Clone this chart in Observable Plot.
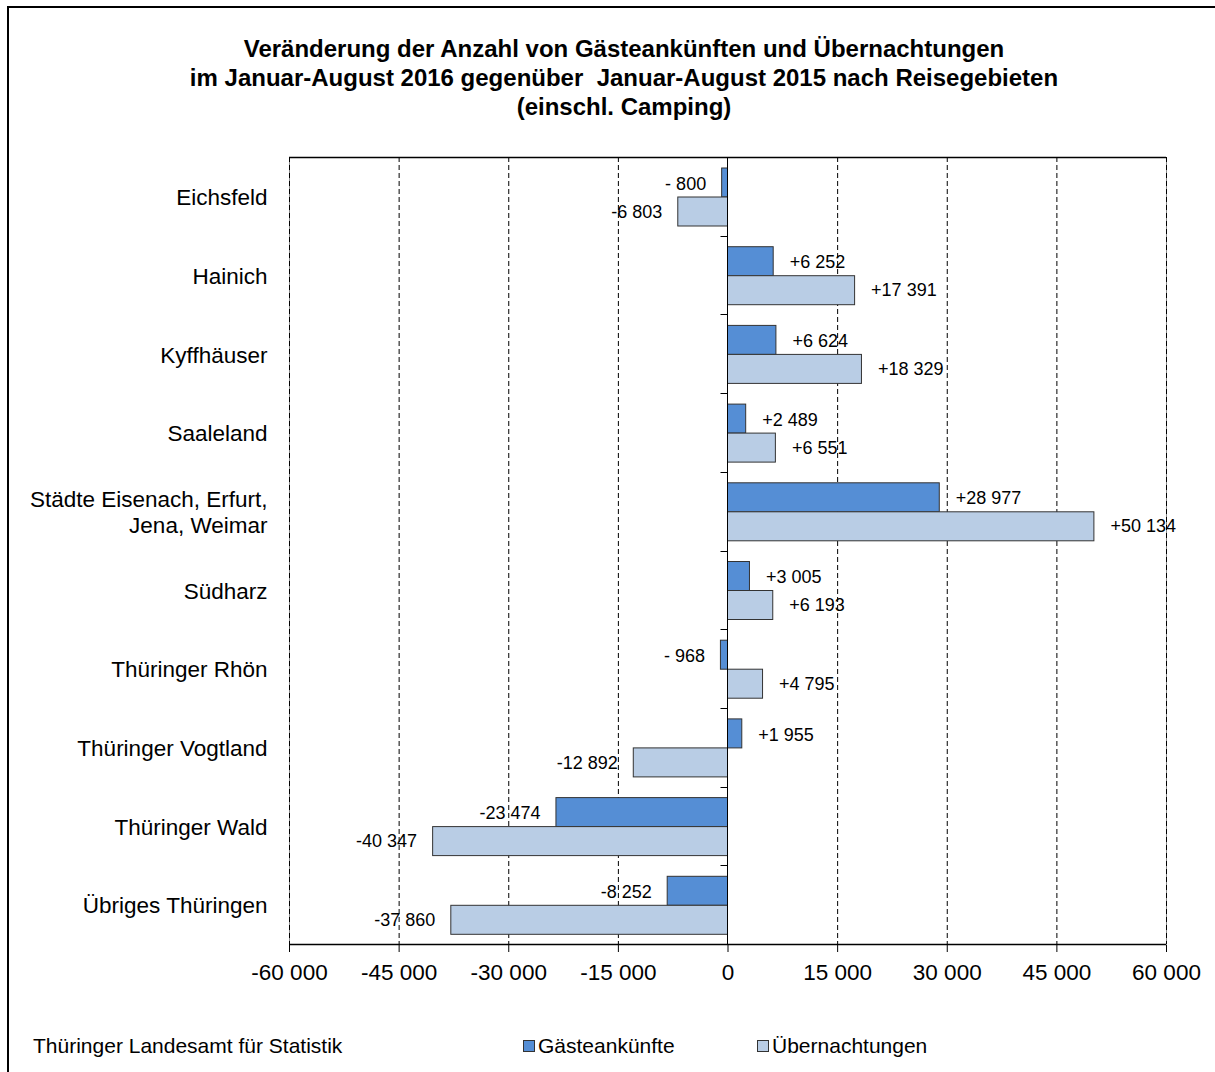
<!DOCTYPE html>
<html>
<head>
<meta charset="utf-8">
<script src="https://cdn.jsdelivr.net/npm/d3@7"></script>
<script src="https://cdn.jsdelivr.net/npm/@observablehq/plot@0.6"></script>
<style>
  html, body { margin: 0; padding: 0; background: #fff; overflow: hidden; }
  #wrap { position: relative; width: 1215px; height: 1072px; font-family: "Liberation Sans", Arial, sans-serif; color: #000; overflow: hidden; }
  #border { position: absolute; left: 7px; top: 6px; width: 1400px; height: 1300px; border: 2px solid #000; box-sizing: border-box; }
  #title { position: absolute; left: 0; top: 34px; width: 1248px; text-align: center; font-weight: bold; font-size: 24px; line-height: 29px; white-space: pre; }
  #chart { position: absolute; left: 0; top: 0; }
  #footer { position: absolute; left: 33px; top: 1033px; font-size: 21px; line-height: 26px; }
  .leg { position: absolute; top: 1033px; font-size: 21px; line-height: 26px; white-space: nowrap; }
  .sw { display: inline-block; width: 10px; height: 10px; border: 1px solid #333; margin-right: 3px; vertical-align: 1px; }
</style>
</head>
<body>
<div id="wrap">
  <div id="border"></div>
  <div id="chart"></div>
  <div id="title"></div>
  <div id="footer"></div>
  <div id="leg1" class="leg" style="left:523px"></div>
  <div id="leg2" class="leg" style="left:757px"></div>
</div>
<script>
// ---- data ----
const categories = [
  "Eichsfeld",
  "Hainich",
  "Kyffhäuser",
  "Saaleland",
  "Städte Eisenach, Erfurt,\nJena, Weimar",
  "Südharz",
  "Thüringer Rhön",
  "Thüringer Vogtland",
  "Thüringer Wald",
  "Übriges Thüringen"
];
const gaesteankuenfte = [-800, 6252, 6624, 2489, 28977, 3005, -968, 1955, -23474, -8252];
const uebernachtungen = [-6803, 17391, 18329, 6551, 50134, 6193, 4795, -12892, -40347, -37860];
const seriesNames = ["Gästeankünfte", "Übernachtungen"];
const xTicks = [-60000, -45000, -30000, -15000, 0, 15000, 30000, 45000, 60000];
const titleLines = [
  "Veränderung der Anzahl von Gästeankünften und Übernachtungen",
  "im Januar-August 2016 gegenüber  Januar-August 2015 nach Reisegebieten",
  "(einschl. Camping)"
];
const sourceText = "Thüringer Landesamt für Statistik";

const colors = ["#558ED5", "#B9CDE5"];

const rows = categories.map((c, i) => ({cat: c, g: gaesteankuenfte[i], u: uebernachtungen[i]}));

const grp = v => d3.format(",")(Math.abs(v)).replace(/,/g, " ");
const tickFmt = v => (v < 0 ? "-" : "") + grp(v);
const labelFmt = v => v < 0 ? (Math.abs(v) < 1000 ? "- " : "-") + grp(v) : "+" + grp(v);

// decorations drawn with the scales
const decor = (index, scales, values, dims) => {
  const {width, height, marginTop, marginBottom, marginLeft, marginRight} = dims;
  const g = d3.create("svg:g");
  const x0 = scales.x(0);
  const top = marginTop, bottom = height - marginBottom;
  const left = marginLeft, right = width - marginRight;
  g.append("line").attr("x1", left).attr("x2", right).attr("y1", top + 0.5).attr("y2", top + 0.5)
    .attr("stroke", "#000").attr("stroke-width", 1.5);
  g.append("line").attr("x1", left).attr("x2", right).attr("y1", bottom + 0.5).attr("y2", bottom + 0.5)
    .attr("stroke", "#000").attr("stroke-width", 1.5);
  g.append("line").attr("x1", x0).attr("x2", x0).attr("y1", top).attr("y2", bottom)
    .attr("stroke", "#000").attr("stroke-width", 1);
  categories.slice(1).forEach(c => {
    const yy = Math.round(scales.y(c)) + 0.5;
    g.append("line").attr("x1", x0 - 7).attr("x2", x0).attr("y1", yy).attr("y2", yy)
      .attr("stroke", "#000").attr("stroke-width", 1);
  });
  return g.node();
};

const band = 78.7;

const chart = Plot.plot({
  width: 1215,
  height: 1072,
  marginLeft: 289,
  marginRight: 49,
  marginTop: 157,
  marginBottom: 128,
  style: {fontFamily: "'Liberation Sans', Arial, sans-serif", fontSize: "22.5px", background: "transparent", color: "#000", overflow: "visible"},
  x: {domain: [-60000, 60000], ticks: xTicks, tickFormat: tickFmt, tickSize: 8, tickPadding: 12, label: null},
  y: {domain: categories, padding: 0, round: false, axis: null},
  marks: [
    Plot.frame({stroke: "#8a8a8a"}),
    Plot.ruleX(xTicks.filter(d => d !== 0), {stroke: "#000", strokeDasharray: "5,3", strokeWidth: 1}),
    Plot.barX(rows, {x1: () => 0, x2: "g", y: "cat", fill: colors[0], stroke: "#333", strokeWidth: 1, insetTop: 11, insetBottom: band - 40}),
    Plot.barX(rows, {x1: () => 0, x2: "u", y: "cat", fill: colors[1], stroke: "#333", strokeWidth: 1, insetTop: 40, insetBottom: band - 69}),
    decor,
    Plot.text(rows, {filter: d => d.g >= 0, x: "g", y: "cat", text: d => labelFmt(d.g), textAnchor: "start", dx: 16, dy: -13, fontSize: 18}),
    Plot.text(rows, {filter: d => d.g < 0, x: "g", y: "cat", text: d => labelFmt(d.g), textAnchor: "end", dx: -16, dy: -13, fontSize: 18}),
    Plot.text(rows, {filter: d => d.u >= 0, x: "u", y: "cat", text: d => labelFmt(d.u), textAnchor: "start", dx: 16, dy: 15, fontSize: 18}),
    Plot.text(rows, {filter: d => d.u < 0, x: "u", y: "cat", text: d => labelFmt(d.u), textAnchor: "end", dx: -16, dy: 15, fontSize: 18}),
    Plot.text(categories, {y: d => d, text: d => d, frameAnchor: "left", textAnchor: "end", dx: -22, fontSize: 22.5, lineHeight: 1.15})
  ]
});
document.getElementById("chart").appendChild(chart);

document.getElementById("title").textContent = titleLines.join("\n");
document.getElementById("footer").textContent = sourceText;
[["leg1", 0], ["leg2", 1]].forEach(([id, i]) => {
  const el = document.getElementById(id);
  const sw = document.createElement("span");
  sw.className = "sw";
  sw.style.background = colors[i];
  el.appendChild(sw);
  el.appendChild(document.createTextNode(seriesNames[i]));
});
</script>
</body>
</html>
